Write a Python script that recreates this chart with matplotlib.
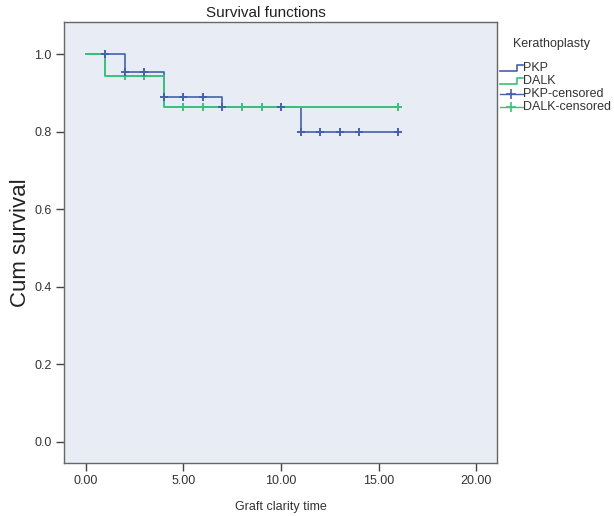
import matplotlib
matplotlib.use('Agg')
import matplotlib.pyplot as plt
from matplotlib.lines import Line2D

plt.rcParams['font.family'] = ['Liberation Sans', 'DejaVu Sans']

# --- data ---
pkp_times = [0, 2, 4, 7, 11, 16]
pkp_surv = [1.0, 0.955, 0.889, 0.864, 0.80, 0.80]
pkp_cens_t = [1, 2, 3, 4, 5, 6, 7, 10, 11, 12, 13, 14, 16]
pkp_cens_s = [1.0, 0.955, 0.955, 0.889, 0.889, 0.889, 0.864, 0.864,
              0.80, 0.80, 0.80, 0.80, 0.80]

dalk_times = [0, 1, 4, 16]
dalk_surv = [1.0, 0.944, 0.864, 0.864]
dalk_cens_t = [2, 3, 5, 6, 8, 9, 16]
dalk_cens_s = [0.944, 0.944, 0.864, 0.864, 0.864, 0.864, 0.864]

x_ticks = [0, 5, 10, 15, 20]
y_ticks = [0.0, 0.2, 0.4, 0.6, 0.8, 1.0]

legend_title = "Kerathoplasty"
legend_labels = ["PKP", "DALK", "PKP-censored", "DALK-censored"]

BLUE = '#4560AC'
GREEN = '#3CBF7C'
BG = '#E8ECF4'
TXT = '#333333'

W, H = 614, 516
fig = plt.figure(figsize=(W / 100, H / 100), dpi=100)
ax = fig.add_axes([64 / W, 1 - 463 / H, 433 / W, 441 / H])
ax.set_facecolor(BG)

ax.step(pkp_times, pkp_surv, where='post', color=BLUE, lw=1.2, zorder=2)
ax.step(dalk_times, dalk_surv, where='post', color=GREEN, lw=1.4, zorder=3)
ax.plot(dalk_cens_t, dalk_cens_s, ls='none', marker='+', ms=6, mew=1.4,
        color=GREEN, zorder=4)
ax.plot(pkp_cens_t, pkp_cens_s, ls='none', marker='+', ms=6, mew=1.4,
        color=BLUE, zorder=5)

ax.set_xlim(-1.11, 21.05)
ax.set_ylim(-0.055, 1.083)
ax.set_xticks(x_ticks)
ax.set_xticklabels([f"{v:.2f}" for v in x_ticks])
ax.set_yticks(y_ticks)
ax.set_yticklabels([f"{v:.1f}" for v in y_ticks])
ax.tick_params(direction='out', length=6, width=1, colors='#444444',
               labelsize=9, labelcolor=TXT, pad=3)
for sp in ax.spines.values():
    sp.set_color('#666666')
    sp.set_linewidth(1.0)

ax.set_xlabel("Graft clarity time", fontsize=9, color=TXT, labelpad=10)
ax.set_ylabel("Cum survival", fontsize=16, color='#222222', labelpad=2)
fig.text(266 / W, 1 - 13 / H, "Survival functions", ha='center',
         va='center', fontsize=11, color='#222222')

# --- legend drawn by hand, outside the axes on the right ---
fx = lambda px: px / W
fy = lambda py: 1 - py / H
fig.text(fx(513), fy(44), legend_title, fontsize=9, color=TXT,
         ha='left', va='center')
rows_y = [68, 81, 94, 107]
colors = [BLUE, GREEN, BLUE, GREEN]
for i, (lab, col, py) in enumerate(zip(legend_labels, colors, rows_y)):
    if i < 2:
        xs = [fx(500), fx(517), fx(517), fx(523)]
        ys = [fy(py + 3), fy(py + 3), fy(py - 3), fy(py - 3)]
        fig.add_artist(Line2D(xs, ys, color=col, lw=1.2,
                              transform=fig.transFigure))
    else:
        fig.add_artist(Line2D([fx(500), fx(523)], [fy(py), fy(py)],
                              color=col, lw=1.0, transform=fig.transFigure))
        fig.add_artist(Line2D([fx(511)], [fy(py)], ls='none', marker='+',
                              ms=7, mew=1.2, color=col,
                              transform=fig.transFigure))
    fig.text(fx(523), fy(py), lab, fontsize=9, color=TXT,
             ha='left', va='center')

fig.savefig('out.png', dpi=100)
